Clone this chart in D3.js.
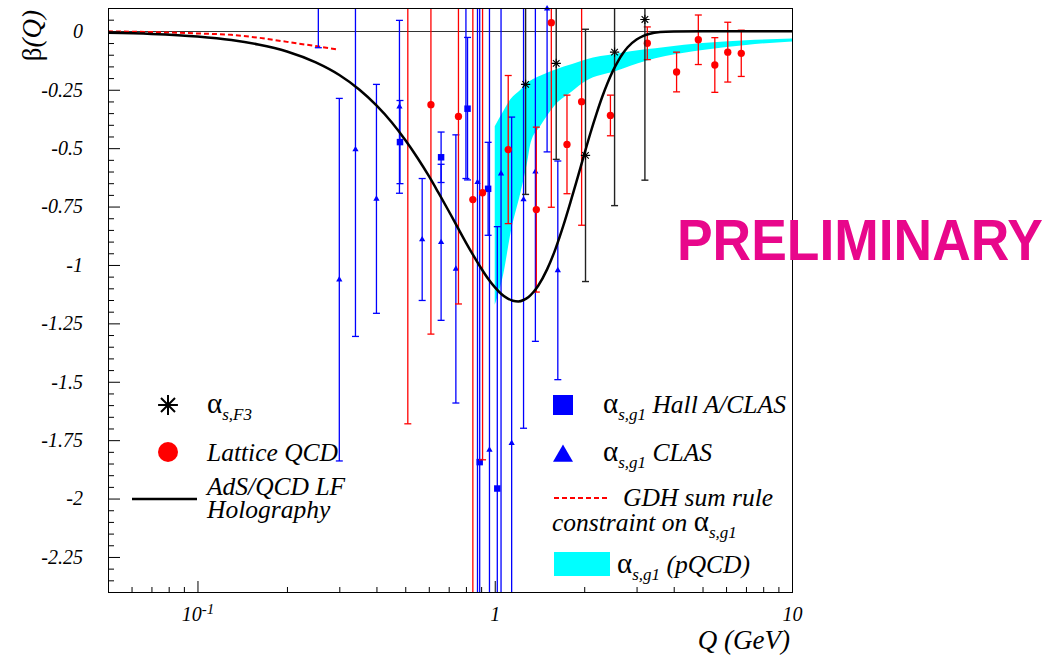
<!DOCTYPE html>
<html><head><meta charset="utf-8">
<script src="https://cdn.jsdelivr.net/npm/d3@7"></script>
<style>body{margin:0;background:#fff} text{white-space:pre}</style>
</head><body>
<svg id="c" width="1048" height="659"></svg>
<script>
// ---------- data ----------
const yTickValues = [0,-0.25,-0.5,-0.75,-1,-1.25,-1.5,-1.75,-2,-2.25];
const yTickLabels = ["0","-0.25","-0.5","-0.75","-1","-1.25","-1.5","-1.75","-2","-2.25"];
const xTickValues = [0.1,1,10];
const xTickLabels = [["10","-1"],["1",""],["10",""]];

// AdS/QCD LF Holography curve
const adsQ = [0.05,0.07,0.1,0.13,0.16,0.2,0.25,0.3,0.35,0.4,0.45,0.5,0.55,0.6,0.65,0.7,0.75,0.8,0.85,0.9,0.95,1.0,1.05,1.1,1.15,1.2,1.25,1.3,1.35,1.4,1.5,1.6,1.7,1.8,1.9,2.0,2.1,2.2,2.3,2.4,2.5,2.6,2.7,2.8,3.0,3.15,3.3,3.6,4.0,5.0,7.0,10];
const adsBeta = [-0.006,-0.011,-0.022,-0.037,-0.056,-0.086,-0.133,-0.187,-0.249,-0.317,-0.389,-0.465,-0.542,-0.619,-0.696,-0.769,-0.839,-0.904,-0.962,-1.014,-1.059,-1.095,-1.123,-1.142,-1.153,-1.156,-1.150,-1.137,-1.116,-1.089,-1.019,-0.932,-0.833,-0.729,-0.626,-0.527,-0.434,-0.352,-0.280,-0.219,-0.168,-0.127,-0.094,-0.068,-0.035,-0.020,-0.011,-0.003,-0.001,0,0,0];

// GDH sum rule constraint
const gdhQ = [0.05,0.07,0.1,0.13,0.16,0.2,0.25,0.295];
const gdhBeta = [0,-0.003,-0.009,-0.015,-0.027,-0.045,-0.063,-0.077];

// pQCD band
const bandQ    = [1.0,1.07,1.13,1.22,1.285,1.32,1.42,1.5,1.6,1.82,2.02,2.55,3.21,3.75,5.0,7.0,10];
const bandHigh = [-0.406,-0.34,-0.29,-0.25,-0.22,-0.21,-0.19,-0.177,-0.163,-0.14,-0.12,-0.096,-0.077,-0.067,-0.05,-0.038,-0.031];
const bandLow  = [-1.17,-1.034,-0.863,-0.69,-0.56,-0.477,-0.406,-0.36,-0.313,-0.256,-0.213,-0.17,-0.127,-0.106,-0.08,-0.058,-0.043];

// alpha_s,F3
const f3Q   = [1.27,1.61,2.02,2.53,3.2];
const f3Val = [-0.227,-0.137,-0.531,-0.089,0.051];
const f3Err = [0.471,0.411,0.54,0.657,0.688];

// Lattice QCD
const latQ   = [0.51,0.61,0.755,0.844,0.91,1.11,1.38,1.55,1.75,1.96,2.45,3.26,4.09,4.84,5.5,6.08,6.75];
const latVal = [0.2,-0.314,-0.364,-0.72,-0.691,-0.506,-0.763,0.037,-0.484,-0.301,-0.36,-0.051,-0.174,-0.036,-0.144,-0.089,-0.094];
const latErr = [1.88,0.982,0.803,2.0,1.143,0.317,0.353,0.79,0.211,0.529,0.087,0.07,0.085,0.106,0.117,0.128,0.099];

// alpha_s,g1 Hall A/CLAS
const hallQ   = [0.48,0.66,0.81,0.89,0.95,1.02];
const hallVal = [-0.474,-0.539,-0.331,-1.844,-0.674,-1.957];
const hallErr = [0.178,0.108,0.305,2.1,0.199,1.121];

// alpha_s,g1 CLAS
const clasQ   = [0.255,0.30,0.34,0.40,0.478,0.57,0.66,0.74,0.80,0.875,0.96,1.05,1.14,1.25,1.37,1.50,1.63];
const clasVal = [0.25,-1.063,-0.506,-0.717,-0.323,-0.891,-0.903,-1.017,0.3,-0.646,-1.792,-0.609,-1.763,-0.72,-0.601,0.097,-1.023];
const clasErr = [0.32,0.776,0.80,0.49,0.37,0.261,0.334,0.574,0.93,1.9,2.0,1.9,1.396,0.979,0.726,0.613,0.468];

// ---------- drawing ----------
const SERIF = "'Liberation Serif','Times New Roman',serif";
const SANS = "'Liberation Sans',Arial,sans-serif";
const svg = d3.select("#c");
const L = 108, R = 792, T = 8, B = 592;
const x = d3.scaleLog().domain([0.05,10]).range([L,R]);
const y = d3.scaleLinear().domain([-2.4,0.1]).range([B,T]);

svg.append("defs").append("clipPath").attr("id","clip")
  .append("rect").attr("x",L).attr("y",T).attr("width",R-L).attr("height",B-T);

const plot = svg.append("g");

// band
plot.append("path")
  .datum(d3.range(bandQ.length))
  .attr("clip-path","url(#clip)")
  .attr("fill","#00ffff")
  .attr("d", d3.area().x(i=>x(bandQ[i])).y0(i=>y(bandLow[i])).y1(i=>y(bandHigh[i])).curve(d3.curveMonotoneX));

// zero line
plot.append("line").attr("x1",L).attr("x2",R).attr("y1",Math.round(y(0))+0.5).attr("y2",Math.round(y(0))+0.5)
  .attr("stroke","#333").attr("stroke-width",1);

// GDH dashed
plot.append("path").datum(d3.range(gdhQ.length))
  .attr("fill","none").attr("stroke","#ff0000").attr("stroke-width",2).attr("stroke-dasharray","5,3")
  .attr("d", d3.line().x(i=>x(gdhQ[i])).y(i=>y(gdhBeta[i])).curve(d3.curveMonotoneX));

function drawSeries(Q, V, E, color, kind, size, capW, sw) {
  const idx = d3.range(Q.length);
  const g = plot.append("g");
  const bars = g.append("g").attr("clip-path","url(#clip)").attr("stroke",color).attr("stroke-width",sw);
  bars.selectAll("line.bar").data(idx).join("line").attr("class","bar")
    .attr("x1",i=>x(Q[i])).attr("x2",i=>x(Q[i]))
    .attr("y1",i=>y(V[i]+E[i])).attr("y2",i=>y(V[i]-E[i]));
  bars.selectAll("line.cap").data(idx.flatMap(i=>[[i,1],[i,-1]])).join("line").attr("class","cap")
    .attr("x1",d=>x(Q[d[0]])-capW).attr("x2",d=>x(Q[d[0]])+capW)
    .attr("y1",d=>y(V[d[0]]+d[1]*E[d[0]])).attr("y2",d=>y(V[d[0]]+d[1]*E[d[0]]));
  const vis = idx.filter(i => V[i] <= 0.1 && V[i] >= -2.4);
  if (kind === "star") {
    [d3.symbolPlus, d3.symbolTimes].forEach(t => {
      g.selectAll(null).data(vis).join("path")
        .attr("transform", i=>`translate(${x(Q[i])},${y(V[i])})`)
        .attr("d", d3.symbol(t, size)).attr("fill","none").attr("stroke","#000").attr("stroke-width",1.1);
    });
  } else {
    g.selectAll(null).data(vis).join("path")
      .attr("transform", i=>`translate(${x(Q[i])},${y(V[i])})`)
      .attr("d", d3.symbol(kind, size)).attr("fill",color);
  }
}

drawSeries(clasQ, clasVal, clasErr, "#0000ff", d3.symbolTriangle, 17, 3.5, 1.3);
drawSeries(hallQ, hallVal, hallErr, "#0000ff", d3.symbolSquare, 42, 3.5, 1.3);
drawSeries(latQ, latVal, latErr, "#ff0000", d3.symbolCircle, 42, 3.5, 1.3);
drawSeries(f3Q, f3Val, f3Err, "#222", "star", 30, 3.5, 1.4);

// AdS curve
plot.append("path").datum(d3.range(adsQ.length))
  .attr("clip-path","url(#clip)")
  .attr("fill","none").attr("stroke","#000").attr("stroke-width",2.5)
  .attr("d", d3.line().x(i=>x(adsQ[i])).y(i=>y(adsBeta[i])).curve(d3.curveMonotoneX));

// frame
svg.append("rect").attr("x",L+0.5).attr("y",T+0.5).attr("width",R-L).attr("height",B-T)
  .attr("fill","none").attr("stroke","#000").attr("stroke-width",1);

// axes
const isMajorY = v => Math.abs(v/0.25 - Math.round(v/0.25)) < 1e-6;
const yMinor = svg.append("g").attr("transform",`translate(${L},0)`)
  .call(d3.axisLeft(y).tickValues(y.ticks(50).filter(v=>!isMajorY(v))).tickSize(-6).tickSizeOuter(0).tickFormat(""));
yMinor.select(".domain").remove();
const yAx = svg.append("g").attr("transform",`translate(${L},0)`)
  .call(d3.axisLeft(y).tickValues(yTickValues).tickFormat((d,i)=>yTickLabels[i]).tickSize(-12).tickSizeOuter(0).tickPadding(25));
yAx.attr("font-family",SERIF).attr("font-size",20);
yAx.selectAll("text").attr("font-style","italic").attr("fill","#000");

const xMinor = svg.append("g").attr("transform",`translate(0,${B})`)
  .call(d3.axisBottom(x).tickValues(x.ticks().filter(v=>!xTickValues.some(t=>Math.abs(t-v)<1e-9))).tickSize(-5).tickSizeOuter(0).tickFormat(""));
xMinor.select(".domain").remove();
const xAx = svg.append("g").attr("transform",`translate(0,${B})`)
  .call(d3.axisBottom(x).tickValues(xTickValues).tickSize(-11).tickSizeOuter(0).tickPadding(15).tickFormat(()=>""));
xAx.attr("font-family",SERIF).attr("font-size",20);
xAx.selectAll(".tick text").each(function(d,i){
  const t = d3.select(this).attr("font-style","italic").attr("fill","#000");
  t.text(null);
  t.append("tspan").text(xTickLabels[i][0]);
  if (xTickLabels[i][1]) t.append("tspan").attr("dy","-0.5em").attr("font-size",15).text(xTickLabels[i][1]);
});

// axis titles
svg.append("text").attr("x",790).attr("y",649).attr("text-anchor","end")
  .attr("font-family",SERIF).attr("font-style","italic").attr("font-size",27).text("Q (GeV)");
const yt = svg.append("text").attr("transform","translate(41,10) rotate(-90)").attr("text-anchor","end")
  .attr("font-family",SERIF).attr("font-size",27);
yt.append("tspan").text("β");
yt.append("tspan").attr("font-style","italic").text("(Q)");

// PRELIMINARY (horizontally condensed to fit)
const pre = svg.append("text").attr("x",0).attr("y",0).attr("font-family",SANS).attr("font-weight","bold")
  .attr("font-size",58).attr("fill","#e8078b").text("PRELIMINARY");
const pw = pre.node().getComputedTextLength();
pre.attr("transform",`translate(677,260) scale(${366/pw},1)`);

// legends
function alphaLabel(xp, yp, sub, rest, prefix) {
  const t = svg.append("text").attr("x",xp).attr("y",yp).attr("font-family",SERIF);
  if (prefix) t.append("tspan").attr("font-style","italic").attr("font-size",25.5).text(prefix);
  t.append("tspan").attr("font-size",29).text("α");
  t.append("tspan").attr("font-style","italic").attr("font-size",17).attr("dy",7).text(sub);
  if (rest) t.append("tspan").attr("font-style","italic").attr("font-size",25.5).attr("dy",-7).text(rest);
  return t;
}
function plainLabel(xp, yp, s) {
  svg.append("text").attr("x",xp).attr("y",yp).attr("font-family",SERIF).attr("font-style","italic")
    .attr("font-size",25.5).text(s);
}
const lg = svg.append("g");
[d3.symbolPlus, d3.symbolTimes].forEach(t =>
  lg.append("path").attr("transform","translate(168,405)").attr("d",d3.symbol(t,130))
    .attr("fill","none").attr("stroke","#000").attr("stroke-width",2));
alphaLabel(207,413,"s,F3");
lg.append("circle").attr("cx",168).attr("cy",452).attr("r",10).attr("fill","#ff0000");
plainLabel(207,461,"Lattice QCD");
lg.append("line").attr("x1",132).attr("x2",197).attr("y1",499).attr("y2",499).attr("stroke","#000").attr("stroke-width",2.5);
plainLabel(207,495,"AdS/QCD LF");
plainLabel(207,518,"Holography");

lg.append("path").attr("transform","translate(563,405)").attr("d",d3.symbol(d3.symbolSquare,400)).attr("fill","#0000ff");
alphaLabel(603,413,"s,g1"," Hall A/CLAS");
lg.append("path").attr("transform","translate(563,456)").attr("d",d3.symbol(d3.symbolTriangle,173)).attr("fill","#0000ff");
alphaLabel(603,461,"s,g1"," CLAS");
lg.append("line").attr("x1",554).attr("x2",610).attr("y1",498).attr("y2",498).attr("stroke","#ff0000")
  .attr("stroke-width",2).attr("stroke-dasharray","5,3");
plainLabel(623,506,"GDH sum rule");
alphaLabel(552,531,"s,g1",null,"constraint on ");
lg.append("rect").attr("x",554).attr("y",552).attr("width",56).attr("height",24).attr("fill","#00ffff");
alphaLabel(617,573,"s,g1"," (pQCD)");
</script>
</body></html>
